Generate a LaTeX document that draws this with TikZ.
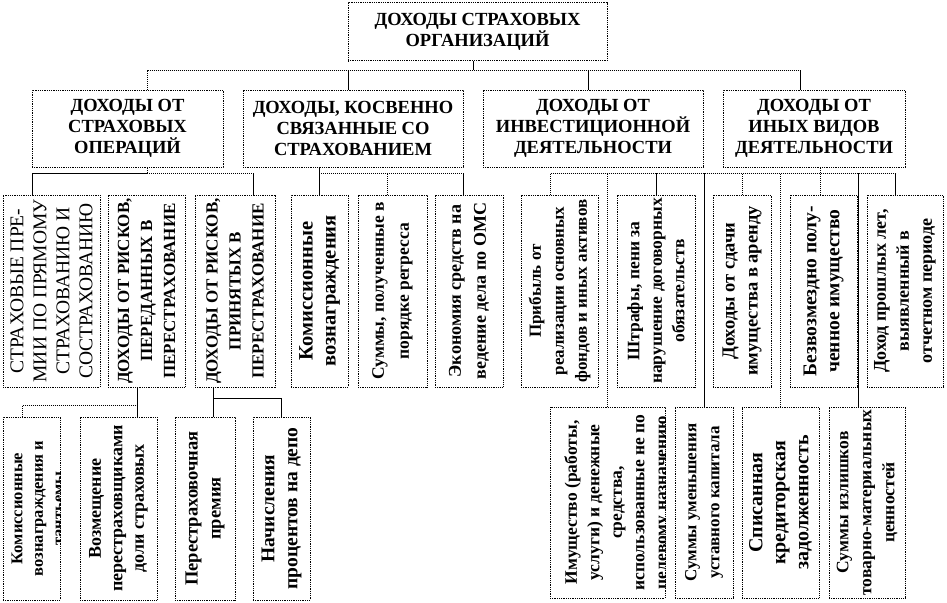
\documentclass[tikz,border=0pt]{standalone}
\usepackage{fontspec}
\setmainfont{Liberation Serif}
\usetikzlibrary{calc}
\newcommand\hdfont{\fontsize{18.5}{21}\selectfont\bfseries}
\newcommand\vsz[2]{\fontsize{#1}{#2}\selectfont\bfseries}
\newcommand\vcfont{\fontsize{19.5}{23}\selectfont}
\tikzset{
 box/.style={draw=black, dash pattern=on 1pt off 0.8pt, line width=1pt, inner sep=0pt},
 hd/.style={font=\hdfont, align=center, inner sep=0pt},
 vt/.style={font={\vsz{18}{23}}, align=center, inner sep=0pt, rotate=90},
 sl/.style={draw=black, line width=1pt},
 dl/.style={draw=black, line width=0.9pt, dash pattern=on 1pt off 1pt},
}
\begin{document}
\begin{tikzpicture}[x=1pt,y=-1pt]
\useasboundingbox (0,0) rectangle (947,602);
% levels
\coordinate (yA) at (0,70);
\coordinate (yB) at (0,173);
\coordinate (yC) at (0,398);
\coordinate (yD) at (0,405);
% top
\node[box, minimum width=259, minimum height=58] (T) at (477.5,32) {};
\node[hd] (Tt) at (T) {ДОХОДЫ СТРАХОВЫХ\\ОРГАНИЗАЦИЙ};
% row 2
\node[box, minimum width=191, minimum height=77] (R1) at (127.5,128.5) {};
\node[hd] (R1t) at (R1) {ДОХОДЫ ОТ\\СТРАХОВЫХ\\ОПЕРАЦИЙ};
\node[box, minimum width=220, minimum height=77] (R2) at (353,128.5) {};
\node[hd] (R2t) at (R2) {ДОХОДЫ, КОСВЕННО\\СВЯЗАННЫЕ СО\\СТРАХОВАНИЕМ};
\node[box, minimum width=220, minimum height=77] (R3) at (593,128.5) {};
\node[hd] (R3t) at (R3) {ДОХОДЫ ОТ\\ИНВЕСТИЦИОННОЙ\\ДЕЯТЕЛЬНОСТИ};
\node[box, minimum width=182, minimum height=77] (R4) at (814,128.5) {};
\node[hd] (R4t) at (R4) {ДОХОДЫ ОТ\\ИНЫХ ВИДОВ\\ДЕЯТЕЛЬНОСТИ};
% row 3
\node[box, minimum width=97, minimum height=192] (A) at (51.5,291) {};
\node[vt, font=\vcfont] (At) at (A) {СТРАХОВЫЕ ПРЕ-\\МИИ ПО ПРЯМОМУ\\СТРАХОВАНИЮ И\\СОСТРАХОВАНИЮ};
\node[box, minimum width=77, minimum height=192] (B) at (146.5,291) {};
\node[vt, font={\vsz{17}{23}}] (Bt) at (B) {ДОХОДЫ ОТ РИСКОВ,\\ПЕРЕДАННЫХ В\\ПЕРЕСТРАХОВАНИЕ};
\node[box, minimum width=80, minimum height=192] (C) at (235,291) {};
\node[vt, font={\vsz{17}{23}}] (Ct) at (C) {ДОХОДЫ ОТ РИСКОВ,\\ПРИНЯТЫХ В\\ПЕРЕСТРАХОВАНИЕ};
\node[box, minimum width=57, minimum height=192] (D) at (319.5,291) {};
\node[vt, font={\vsz{20.5}{23}}] (Dt) at (D) {Комиссионные\\вознаграждения};
\node[box, minimum width=69, minimum height=192] (E) at (392.5,291) {};
\node[vt, font={\vsz{17.5}{25}}] (Et) at (E) {Суммы, полученные в\\порядке регресса};
\node[box, minimum width=68, minimum height=192] (F) at (469,291) {};
\node[vt, font={\vsz{18}{25}}] (Ft) at (F) {Экономия средств на\\ведение дела по ОМС};
\node[box, minimum width=77, minimum height=192] (K) at (559.5,291) {};
\node[vt, font={\vsz{17}{23}}] (Kt) at (K) {Прибыль от\\реализации основных\\фондов и иных активов};
\node[box, minimum width=78, minimum height=192] (L) at (656,291) {};
\node[vt, font={\vsz{17.5}{22.5}}] (Lt) at (L) {Штрафы, пени за\\нарушение договорных\\обязательств};
\node[box, minimum width=58, minimum height=192] (M) at (742,291) {};
\node[vt, font={\vsz{18.5}{23}}] (Mt) at (M) {Доходы от сдачи\\имущества в аренду};
\node[box, minimum width=67, minimum height=192] (N) at (823.5,291) {};
\node[vt, font={\vsz{19.5}{23}}] (Nt) at (N) {Безвозмездно полу-\\ченное имущество};
\node[box, minimum width=76, minimum height=192] (O) at (905,291) {};
\node[vt, font={\vsz{18}{23}}] (Ot) at (O) {Доход прошлых лет,\\выявленный в\\отчетном периоде};
% row 4 left
\node[box, minimum width=57, minimum height=183] (G) at (31.5,508.5) {};
\begin{scope}
\clip (G.north west) rectangle (G.south east);
\node[vt, font={\vsz{16.5}{20.5}}] (Gt) at ([xshift=6]G.center) {Комиссионные\\вознаграждения и\\тантьемы};
\end{scope}
\node[box, minimum width=77, minimum height=183] (H) at (118.5,508.5) {};
\node[vt, font={\vsz{18}{21.5}}] (Ht) at (H) {Возмещение\\перестраховщиками\\доли страховых};
\node[box, minimum width=60, minimum height=183] (I) at (205,508.5) {};
\node[vt, font={\vsz{18.5}{23}}] (It) at (I) {Перестраховочная\\премия};
\node[box, minimum width=57, minimum height=183] (J) at (281.5,508.5) {};
\node[vt, font={\vsz{19.5}{23}}] (Jt) at (J) {Начисления\\процентов на депо};
% row 4 right
\node[box, minimum width=115, minimum height=191] (P) at (607.5,502.5) {};
\begin{scope}
\clip (P.north west) rectangle (P.south east);
\node[vt, font={\vsz{17.5}{22.5}}] (Pt) at ([xshift=10]P.center) {Имущество (работы,\\услуги) и денежные\\средства,\\использованные не по\\целевому назначению};
\end{scope}
\node[box, minimum width=58, minimum height=191] (Q) at (704,502.5) {};
\node[vt, font={\vsz{17}{23}}] (Qt) at (Q) {Суммы уменьшения\\уставного капитала};
\node[box, minimum width=77, minimum height=191] (R) at (780.5,502.5) {};
\node[vt, font={\vsz{20}{23}}] (Rt) at (R) {Списанная\\кредиторская\\задолженность};
\node[box, minimum width=76, minimum height=191] (S) at (867,502.5) {};
\node[vt, font={\vsz{17.5}{23}}] (St) at (S) {Суммы излишков\\товарно-материальных\\ценностей};
% connectors: top level
\draw[sl] ([xshift=-4.5]T.south) -- ([xshift=-4.5]T.south |- yA);
\draw[dl] ([xshift=19.5]R1.north) |- ([xshift=-14]R4.north |- yA);
\draw[sl] ([xshift=-5]R2.north) -- ([xshift=-5]R2.north |- yA);
\draw[sl] ([xshift=-5]R3.north) -- ([xshift=-5]R3.north |- yA);
\draw[sl] ([xshift=-14]R4.north) -- ([xshift=-14]R4.north |- yA);
% left group
\draw[dl] ([xshift=19.5]R1.south) -- ([xshift=19.5]R1.south |- yB);
\draw[sl] ([xshift=-19.5]A.north) |- ([xshift=19.5]R1.south |- yB);
\draw[dl] ([xshift=19.5]R1.south |- yB) -- ([xshift=18]C.north |- yB);
\draw[sl] ([xshift=18]C.north) -- ([xshift=18]C.north |- yB);
% middle group
\draw[sl] ([xshift=-34]R2.south) -- ([xshift=-34]R2.south |- D.north);
\draw[dl] ([xshift=-34]R2.south |- yB) -- ([xshift=-6]F.north |- yB);
\draw[sl] ([xshift=-6]F.north) -- ([xshift=-6]F.north |- yB);
\draw[dl] ([xshift=-5.5]E.north) -- ([xshift=-5.5]E.north |- yB);
% right group
\draw[dl] ([xshift=-9.5]K.north) |- ([xshift=-10]O.north |- yB);
\draw[sl] ([xshift=-10]O.north) -- ([xshift=-10]O.north |- yB);
\draw[dl] (P.north) -- (P.north |- yB);
\draw[sl] (L.north) -- (L.north |- yB);
\draw[sl] (Q.north) -- (Q.north |- yB);
\draw[dl] (M.north) -- (M.north |- yB);
\draw[dl] (R.north) -- (R.north |- yB);
\draw[dl] ([xshift=-3.5]N.north) -- ([xshift=-3.5]N.north |- R4.south);
\draw[sl] ([xshift=-9]S.north) -- ([xshift=-9]S.north |- yB);
% bottom left
\draw[sl] ([xshift=-9.5]B.south) -- ([xshift=-9.5]B.south |- H.north);
\draw[dl] ([xshift=-9.5]G.north) |- ([xshift=-9.5]B.south |- yD);
\draw[sl] ([xshift=-22]C.south) -- ([xshift=-22]C.south |- I.north);
\draw[sl] (J.north) |- ([xshift=-22]C.south |- yC);
\end{tikzpicture}
\end{document}
